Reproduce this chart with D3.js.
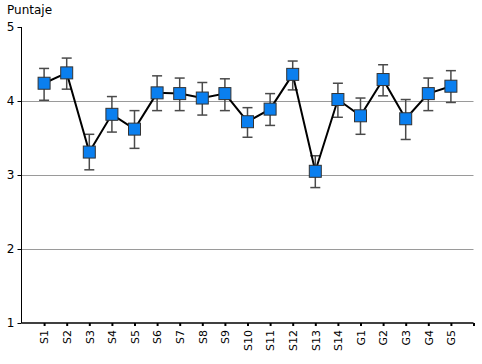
<!DOCTYPE html>
<html><head><meta charset="utf-8">
<script src="https://cdn.jsdelivr.net/npm/d3@7"></script>
<style>body{margin:0;background:#fff}svg{display:block;font-family:"DejaVu Sans",Verdana,sans-serif}</style>
</head><body><svg id="c" width="482" height="364"></svg>
<script>
const categories = ["S1","S2","S3","S4","S5","S6","S7","S8","S9","S10","S11","S12","S13","S14","G1","G2","G3","G4","G5"];
const values = [4.24,4.38,3.31,3.82,3.62,4.11,4.10,4.04,4.10,3.72,3.89,4.36,3.05,4.02,3.80,4.29,3.76,4.10,4.20];
const upper  = [4.44,4.58,3.55,4.06,3.87,4.34,4.31,4.25,4.30,3.91,4.10,4.54,3.26,4.24,4.04,4.49,4.02,4.31,4.41];
const lower  = [4.01,4.16,3.07,3.58,3.36,3.87,3.87,3.81,3.87,3.51,3.67,4.15,2.83,3.78,3.55,4.07,3.48,3.87,3.98];
const yTicks = [1,2,3,4,5];
const yTitle = "Puntaje";

const svg = d3.select("#c");
const x = d3.scaleLinear().domain([0, categories.length + 1]).range([21.5, 473.5]);
const y = d3.scaleLinear().domain([1, 5]).range([323, 27]);

// gridlines
svg.append("g").selectAll("line").data(yTicks.filter(t => t > 1 && t < 5)).join("line")
  .attr("x1", x(0)).attr("x2", x(categories.length + 1))
  .attr("y1", d => Math.round(y(d)) + 0.5).attr("y2", d => Math.round(y(d)) + 0.5)
  .attr("stroke", "#9a9a9a").attr("stroke-width", 1);

// y axis
const ya = svg.append("g").attr("transform", `translate(${x(0)},0)`)
  .call(d3.axisLeft(y).tickValues(yTicks).tickSize(4).tickFormat(d3.format("d")));
ya.select(".domain").attr("stroke", "#000").attr("d", `M0,${y(5)}V${y(1)}`);
ya.selectAll(".tick line").attr("stroke", "#000");
ya.selectAll(".tick text").attr("font-size", 12).attr("fill", "#000").attr("x", -7)
  .attr("font-family", "DejaVu Sans, Verdana, sans-serif");

// x axis
const xa = svg.append("g").attr("transform", `translate(0,${y(1)})`)
  .call(d3.axisBottom(x).tickValues(d3.range(1, categories.length + 2)).tickSize(3)
    .tickFormat(d => categories[d - 1] || ""));
xa.select(".domain").attr("stroke", "#000").attr("stroke-width", 1.5)
  .attr("d", `M${x(0)},0H${x(categories.length + 1)}`);
xa.selectAll(".tick line").attr("stroke", "#000").attr("stroke-width", 2);
xa.selectAll(".tick text").attr("font-size", 11).attr("fill", "#000")
  .attr("font-family", "DejaVu Sans, Verdana, sans-serif")
  .attr("transform", "rotate(-90)").attr("text-anchor", "end")
  .attr("x", -7).attr("y", 0).attr("dy", "0.35em");

// title
svg.append("text").attr("x", 7).attr("y", 14).attr("font-size", 12).attr("fill", "#000").text(yTitle);

// error bars
const eb = svg.append("g").attr("stroke", "#4a4a4a").attr("stroke-width", 1.5);
categories.forEach((c, i) => {
  const cx = x(i + 1);
  eb.append("line").attr("x1", cx).attr("x2", cx).attr("y1", y(upper[i])).attr("y2", y(lower[i]));
  eb.append("line").attr("x1", cx - 5).attr("x2", cx + 5).attr("y1", y(upper[i])).attr("y2", y(upper[i]));
  eb.append("line").attr("x1", cx - 5).attr("x2", cx + 5).attr("y1", y(lower[i])).attr("y2", y(lower[i]));
});

// line
svg.append("path").datum(values)
  .attr("d", d3.line().x((d, i) => x(i + 1)).y(d => y(d)))
  .attr("fill", "none").attr("stroke", "#000").attr("stroke-width", 2);

// markers
svg.append("g").selectAll("rect").data(values).join("rect")
  .attr("x", (d, i) => x(i + 1) - 6).attr("y", d => y(d) - 6)
  .attr("width", 12).attr("height", 12)
  .attr("fill", "#0a7fef").attr("stroke", "#333").attr("stroke-width", 1);
</script></body></html>
